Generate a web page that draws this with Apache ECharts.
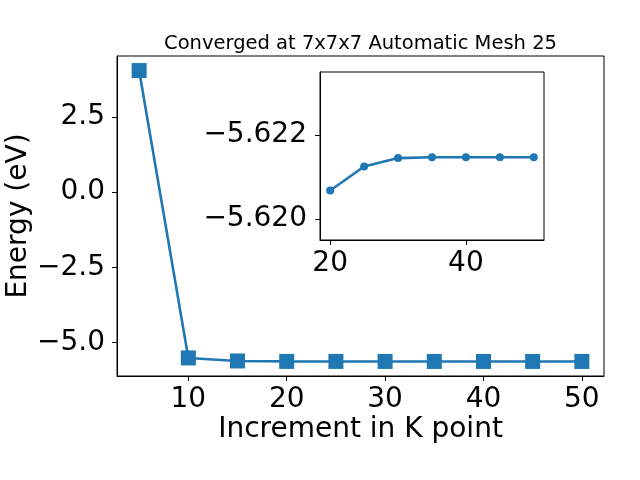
<!DOCTYPE html>
<html><head><meta charset="utf-8">
<script src="https://cdn.jsdelivr.net/npm/echarts@6/dist/echarts.min.js"></script>
<style>html,body{margin:0;padding:0;background:#fff}#c{width:640px;height:480px}</style>
</head><body><div id="c"></div>
<script>
const kPoints = [5, 10, 15, 20, 25, 30, 35, 40, 45, 50];
const energies = [4.04, -5.505, -5.605, -5.62068, -5.62125, -5.62145, -5.62147, -5.62147, -5.62147, -5.62147];
const insetK = [20, 25, 30, 35, 40, 45, 50];
const insetE = [-5.62068, -5.62125, -5.62145, -5.62147, -5.62147, -5.62147, -5.62147];
const mainXTicks = [10, 20, 30, 40, 50];
const mainYTicks = [-5, -2.5, 0, 2.5];
const insetXTicks = [20, 40];
const insetYTicks = [-5.622, -5.620];
const titleText = 'Converged at 7x7x7 Automatic Mesh 25';
const xName = 'Increment in K point';
const yName = 'Energy (eV)';

const font = 'DejaVu Sans';
const blue = '#1f77b4';
const fs = 28;
const fmt = (d) => (v) => (v < 0 ? '\u2212' : '') + Math.abs(v).toFixed(d);

const chart = echarts.init(document.getElementById('c'), null, {renderer: 'canvas'});
const axisCommon = {
  axisLine: {show: true, onZero: false, lineStyle: {color: '#000', width: 1}},
  axisTick: {show: true, inside: false, length: 5, lineStyle: {color: '#000', width: 1}},
  splitLine: {show: false},
  nameMoveOverlap: false,
};
chart.setOption({
  animation: false,
  backgroundColor: '#fff',
  title: {text: titleText, left: 355.5, top: 29, textAlign: 'center',
    textStyle: {fontFamily: font, fontSize: 19.5, fontWeight: 'normal', color: '#000'}},
  grid: [
    {left: 117, top: 56, width: 487, height: 320, show: true, borderColor: '#000', borderWidth: 1, backgroundColor: 'transparent', z: 1, containLabel: false, outerBoundsMode: 'none'},
    {left: 320, top: 72, width: 224, height: 168, show: true, borderColor: '#000', borderWidth: 1, backgroundColor: '#fff', z: 5, containLabel: false, outerBoundsMode: 'none'}
  ],
  xAxis: [
    Object.assign({}, axisCommon, {gridIndex: 0, type: 'value', min: 2.75, max: 52.25,
      name: xName, nameLocation: 'middle', nameGap: 40,
      nameTextStyle: {fontFamily: font, fontSize: fs, color: '#000'},
      axisTick: Object.assign({}, axisCommon.axisTick, {customValues: mainXTicks}),
      axisLabel: {customValues: mainXTicks, margin: 10, fontFamily: font, fontSize: fs, color: '#000', formatter: fmt(0)}}),
    Object.assign({}, axisCommon, {gridIndex: 1, type: 'value', min: 18.5, max: 51.5, z: 6,
      axisTick: Object.assign({}, axisCommon.axisTick, {customValues: insetXTicks}),
      axisLabel: {customValues: insetXTicks, margin: 10, fontFamily: font, fontSize: fs, color: '#000', formatter: fmt(0)}})
  ],
  yAxis: [
    Object.assign({}, axisCommon, {gridIndex: 0, type: 'value', min: -6.105, max: 4.523,
      name: yName, nameLocation: 'middle', nameGap: 84,
      nameTextStyle: {fontFamily: font, fontSize: fs, color: '#000'},
      axisTick: Object.assign({}, axisCommon.axisTick, {customValues: mainYTicks}),
      axisLabel: {customValues: mainYTicks, margin: 12, fontFamily: font, fontSize: fs, color: '#000', formatter: fmt(1)}}),
    Object.assign({}, axisCommon, {gridIndex: 1, type: 'value', min: -5.6235, max: -5.6195, inverse: true, z: 6,
      axisTick: Object.assign({}, axisCommon.axisTick, {customValues: insetYTicks}),
      axisLabel: {customValues: insetYTicks, margin: 13, fontFamily: font, fontSize: fs, color: '#000', formatter: fmt(3)}})
  ],
  series: [
    {type: 'line', xAxisIndex: 0, yAxisIndex: 0, data: kPoints.map((k, i) => [k, energies[i]]),
      symbol: 'rect', symbolSize: 15, showAllSymbol: true, z: 2,
      lineStyle: {color: blue, width: 2.6}, itemStyle: {color: blue, borderWidth: 0}},
    {type: 'line', xAxisIndex: 1, yAxisIndex: 1, data: insetK.map((k, i) => [k, insetE[i]]),
      symbol: 'circle', symbolSize: 8, showAllSymbol: true, z: 7,
      lineStyle: {color: blue, width: 2.6}, itemStyle: {color: blue, borderWidth: 0}}
  ]
});
</script></body></html>
